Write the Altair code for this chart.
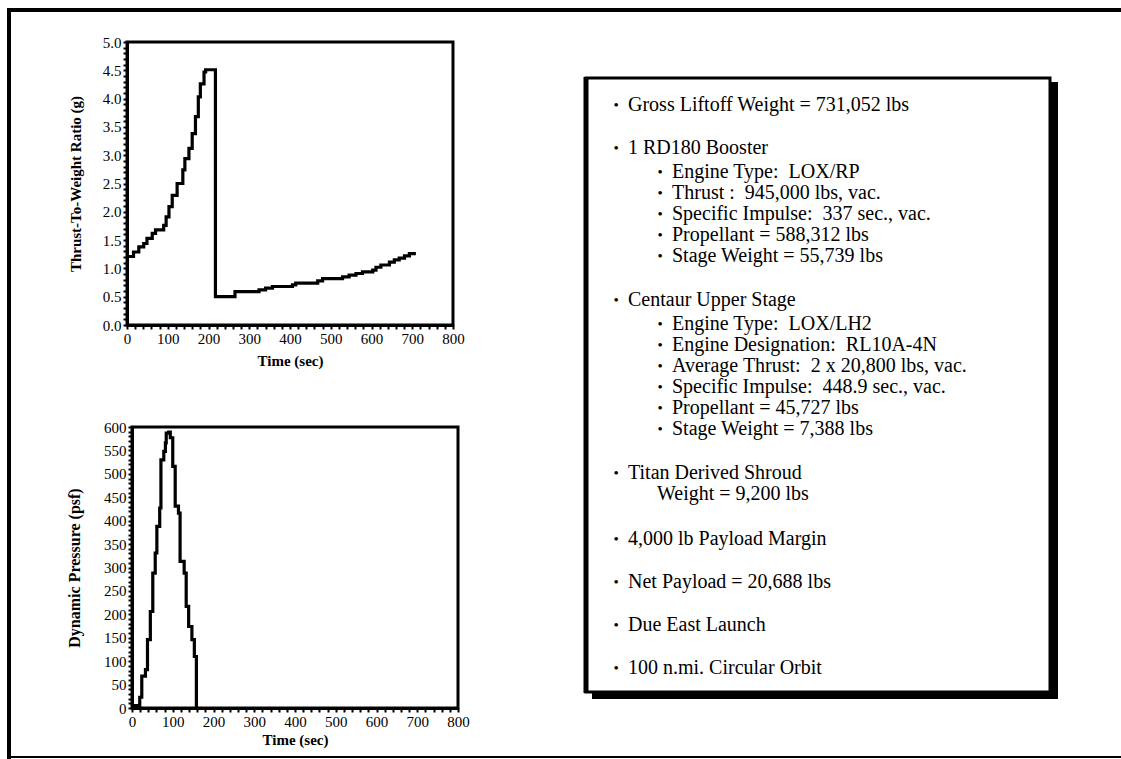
import altair as alt
import pandas as pd

SERIF = "Liberation Serif"

# ---- Thrust-to-weight ratio vs time ----
tw_time = [0, 16, 29, 41, 49, 62, 70, 90, 96, 103, 111, 123, 137, 142, 152, 160,
           168, 175, 180, 189, 193, 217, 217, 265, 265, 324, 340, 357, 406, 414,
           468, 480, 529, 545, 562, 578, 603, 611, 623, 644, 656, 668, 681, 693, 705]
tw_ratio = [1.21, 1.29, 1.38, 1.44, 1.53, 1.62, 1.68, 1.76, 1.91, 2.09, 2.29, 2.50,
            2.74, 2.94, 3.12, 3.38, 3.68, 4.03, 4.26, 4.47, 4.51, 4.51, 0.50, 0.50,
            0.59, 0.62, 0.65, 0.68, 0.71, 0.74, 0.78, 0.82, 0.85, 0.88, 0.91, 0.94,
            0.97, 1.02, 1.06, 1.11, 1.15, 1.18, 1.22, 1.26, 1.29]

# ---- Dynamic pressure vs time ----
q_time = [0, 8, 19, 24, 33, 38, 45, 51, 57, 61, 68, 71, 78, 82, 84, 90, 94, 100,
          106, 114, 118, 128, 133, 139, 147, 153, 158]
q_psf = [0, 5, 23, 68, 82, 146, 206, 288, 331, 388, 427, 530, 548, 566, 587, 589,
         577, 516, 431, 416, 313, 288, 217, 174, 146, 110, 0]

# ---- Text panel ----
info_lines = [
    "Gross Liftoff Weight = 731,052 lbs",
    "1 RD180 Booster",
    "Engine Type:  LOX/RP",
    "Thrust :  945,000 lbs, vac.",
    "Specific Impulse:  337 sec., vac.",
    "Propellant = 588,312 lbs",
    "Stage Weight = 55,739 lbs",
    "Centaur Upper Stage",
    "Engine Type:  LOX/LH2",
    "Engine Designation:  RL10A-4N",
    "Average Thrust:  2 x 20,800 lbs, vac.",
    "Specific Impulse:  448.9 sec., vac.",
    "Propellant = 45,727 lbs",
    "Stage Weight = 7,388 lbs",
    "Titan Derived Shroud",
    "Weight = 9,200 lbs",
    "4,000 lb Payload Margin",
    "Net Payload = 20,688 lbs",
    "Due East Launch",
    "100 n.mi. Circular Orbit",
]
info_level = [0, 0, 1, 1, 1, 1, 1, 0, 1, 1, 1, 1, 1, 1, 0, 2, 0, 0, 0, 0]

W, H = 1121, 759

# ---------- layout of the text panel ----------
ys, prev, y = [], None, 105
for lvl in info_level:
    if prev is not None:
        if lvl == 1:
            y += 24 if prev == 0 else 21
        elif lvl == 2:
            y += 21
        elif prev == 1:
            y += 44
        elif prev == 2:
            y += 45
        else:
            y += 43
    ys.append(y)
    prev = lvl
text_x = {0: 628, 1: 672, 2: 657}
bullet_x = {0: 616, 1: 660}
info_df = pd.DataFrame({
    "line": [s.replace("  ", "\u00a0 ") for s in info_lines],
    "tx": [text_x[l] for l in info_level],
    "ty": ys,
    "bx": [bullet_x.get(l, -100) for l in info_level],
    "has_bullet": [l < 2 for l in info_level],
    "b": ["\u2022"] * len(info_lines),
})


def axis(**kw):
    base = dict(domainColor="black", domainWidth=3, tickColor="black", tickWidth=2,
                tickSize=4, labelFont=SERIF, labelFontSize=15, labelColor="black",
                titleFont=SERIF, titleFontWeight="bold", titleColor="black",
                grid=False, labelPadding=2, labelOverlap=False, labelFlush=False)
    base.update(kw)
    return alt.Axis(**base)


# ---------- top chart ----------
top_x = alt.Scale(domain=[0, 800], range=[127, 453], nice=False, zero=False)
top_y = alt.Scale(domain=[0, 5], range=[325, 42], nice=False, zero=False)
top_xaxis = axis(orient="bottom", offset=325 - H, values=list(range(0, 801, 20)),
                 labelExpr="datum.value % 100 == 0 ? datum.label : ''",
                 title="Time (sec)", titleFontSize=15, titlePadding=7)
top_yaxis = axis(orient="left", offset=-127, values=[round(i * 0.1, 1) for i in range(51)],
                 labelExpr="round(datum.value*10) % 5 == 0 ? format(datum.value, '.1f') : ''",
                 title="Thrust-To-Weight Ratio (g)", titleFontSize=15, titlePadding=19)

top_df = pd.DataFrame({"t": tw_time, "r": tw_ratio, "i": range(len(tw_time))})
top_frame_df = pd.DataFrame({"t": [0], "t2": [800], "r": [0], "r2": [5]})
top_frame = alt.Chart(top_frame_df).mark_rect(filled=False, stroke="black", strokeWidth=3).encode(
    x=alt.X("t:Q", scale=top_x, axis=top_xaxis), x2="t2:Q",
    y=alt.Y("r:Q", scale=top_y, axis=top_yaxis), y2="r2:Q")
top_line = alt.Chart(top_df).mark_line(color="black", strokeWidth=3.2, interpolate="step-after").encode(
    x=alt.X("t:Q", scale=top_x, axis=top_xaxis),
    y=alt.Y("r:Q", scale=top_y, axis=top_yaxis),
    order="i:Q")
top_chart = alt.layer(top_frame, top_line)

# ---------- bottom chart ----------
bot_x = alt.Scale(domain=[0, 800], range=[132, 458], nice=False, zero=False)
bot_y = alt.Scale(domain=[0, 600], range=[708, 427], nice=False, zero=False)
bot_xaxis = axis(orient="bottom", offset=708 - H, values=list(range(0, 801, 20)),
                 labelExpr="datum.value % 100 == 0 ? datum.label : ''",
                 title="Time (sec)", titleFontSize=15, titlePadding=3)
bot_yaxis = axis(orient="left", offset=-132, values=list(range(0, 601, 10)),
                 labelExpr="datum.value % 50 == 0 ? datum.label : ''",
                 title="Dynamic Pressure (psf)", titleFontSize=16, titlePadding=21)

bot_df = pd.DataFrame({"t": q_time, "q": q_psf, "i": range(len(q_time))})
bot_frame_df = pd.DataFrame({"t": [0], "t2": [800], "q": [0], "q2": [600]})
bot_frame = alt.Chart(bot_frame_df).mark_rect(filled=False, stroke="black", strokeWidth=3).encode(
    x=alt.X("t:Q", scale=bot_x, axis=bot_xaxis), x2="t2:Q",
    y=alt.Y("q:Q", scale=bot_y, axis=bot_yaxis), y2="q2:Q")
bot_line = alt.Chart(bot_df).mark_line(color="black", strokeWidth=3.2, interpolate="step-after").encode(
    x=alt.X("t:Q", scale=bot_x, axis=bot_xaxis),
    y=alt.Y("q:Q", scale=bot_y, axis=bot_yaxis),
    order="i:Q")
bot_chart = alt.layer(bot_frame, bot_line)

# ---------- decorations: page frame and text box ----------
one = pd.DataFrame({"k": [0]})


def rule(x1, x2, y1, y2, w):
    return alt.Chart(one).mark_rule(color="black", strokeWidth=w).encode(
        x=alt.value(x1), x2=alt.value(x2), y=alt.value(y1), y2=alt.value(y2))


def box(x1, x2, y1, y2, **kw):
    return alt.Chart(one).mark_rect(**kw).encode(
        x=alt.value(x1), x2=alt.value(x2), y=alt.value(y1), y2=alt.value(y2))


decor = [
    rule(7, W, 10, 10, 4),
    rule(9, 9, 8, H, 4),
    rule(7, W, 757, 757, 2),
    box(1049, 1058, 82, 699, fill="black"),
    box(592, 1058, 691, 699, fill="black"),
    box(586, 1050, 78, 692, fill="white", stroke="black", strokeWidth=3),
    rule(586, 586, 77, 693, 5),
]

bullets = alt.Chart(info_df).transform_filter("datum.has_bullet").mark_text(
    align="center", baseline="middle", font=SERIF, fontSize=15, color="black").encode(
    x=alt.X("bx:Q", scale=None, axis=None), y=alt.Y("ty:Q", scale=None, axis=None), text="b:N")
texts = alt.Chart(info_df).mark_text(
    align="left", baseline="middle", font=SERIF, fontSize=20, color="black").encode(
    x=alt.X("tx:Q", scale=None, axis=None), y=alt.Y("ty:Q", scale=None, axis=None), text="line:N")

chart = alt.layer(*decor, top_chart, bot_chart, bullets, texts).resolve_scale(
    x="independent", y="independent"
).properties(
    width=W, height=H, autosize=alt.AutoSizeParams(type="none"), padding=0
).configure_view(stroke=None)

chart.save("out.html", embed_options={"renderer": "svg", "actions": False})
